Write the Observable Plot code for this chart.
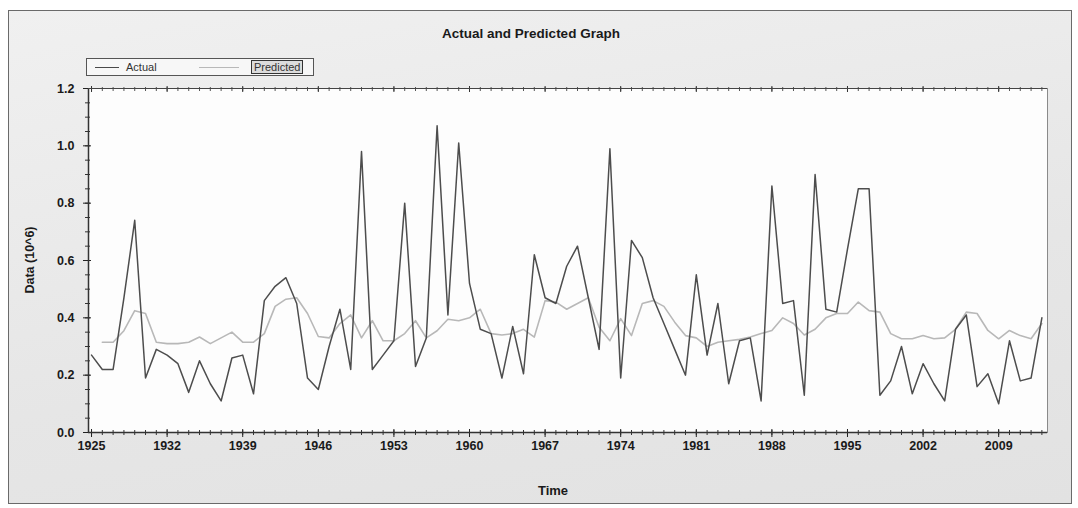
<!DOCTYPE html>
<html><head><meta charset="utf-8">
<script src="https://cdn.jsdelivr.net/npm/d3@7"></script>
<script src="https://cdn.jsdelivr.net/npm/@observablehq/plot@0.6"></script>
<style>
body{margin:0;background:#fff;font-family:"Liberation Sans",Arial,sans-serif;}
#wrap{position:relative;width:1078px;height:508px;overflow:hidden;}
#panel{position:absolute;left:8px;top:10px;width:1064px;height:494px;border:1px solid #6a6a6a;box-sizing:border-box;background:linear-gradient(170deg,#f0f0f0,#e6e6e6 60%,#e2e2e2);}
#chart{position:absolute;left:0;top:0;}
#title{position:absolute;left:-8px;width:1078px;top:26px;text-align:center;font-weight:bold;font-size:13.5px;color:#1a1a1a;}
#legend{position:absolute;left:86px;top:58px;width:228px;height:18px;border:1px solid #555;background:#f7f7f7;font-size:11px;color:#333;box-sizing:border-box;}
#legend .sw{position:absolute;top:8px;height:0;}
#legend .lb{position:absolute;top:2px;line-height:12px;}
#ylab{position:absolute;left:30px;top:260px;transform:translate(-50%,-50%) rotate(-90deg);font-weight:bold;font-size:12.5px;color:#1a1a1a;white-space:nowrap;}
#xlab{position:absolute;left:553px;top:483px;transform:translateX(-50%);font-weight:bold;font-size:13px;color:#1a1a1a;}
</style>
</head><body>
<div id="wrap">
  <div id="panel"></div>
  <div id="chart"></div>
  <div id="title">Actual and Predicted Graph</div>
  <div id="legend">
    <div class="sw" style="left:8px;width:24px;border-top:1.5px solid #4a4a4a;"></div>
    <div class="lb" style="left:39px;">Actual</div>
    <div class="sw" style="left:112px;width:40px;border-top:1.5px solid #b8b8b8;"></div>
    <div class="lb" style="left:164px;top:1px;border:1px solid #333;padding:0 2px;background:#dcdcdc;">Predicted</div>
  </div>
  <div id="ylab">Data (10^6)</div>
  <div id="xlab">Time</div>
</div>
<script>
const years = d3.range(1925, 2014);
const actual = [
  0.27, 0.22, 0.22, 0.47, 0.74, 0.19, 0.29, 0.27, 0.24, 0.14,
  0.25, 0.17, 0.11, 0.26, 0.27, 0.135, 0.46, 0.51, 0.54, 0.45,
  0.19, 0.15, 0.30, 0.43, 0.22, 0.98, 0.22, 0.27, 0.32, 0.80,
  0.23, 0.33, 1.07, 0.41, 1.01, 0.52, 0.36, 0.345, 0.19, 0.37,
  0.205, 0.62, 0.47, 0.45, 0.58, 0.65, 0.47, 0.29, 0.99, 0.19,
  0.67, 0.61, 0.47, 0.38, 0.29, 0.20, 0.55, 0.27, 0.45, 0.17,
  0.32, 0.33, 0.11, 0.86, 0.45, 0.46, 0.13, 0.90, 0.43, 0.42,
  0.64, 0.85, 0.85, 0.13, 0.18, 0.30, 0.135, 0.24, 0.17, 0.11,
  0.36, 0.41, 0.16, 0.205, 0.10, 0.32, 0.18, 0.19, 0.40
];
const predicted = [
  null, 0.315, 0.315, 0.355, 0.425, 0.415, 0.315, 0.31, 0.31, 0.315,
  0.333, 0.31, 0.33, 0.35, 0.315, 0.315, 0.345, 0.44, 0.465, 0.47,
  0.415, 0.335, 0.33, 0.38, 0.41, 0.33, 0.39, 0.32, 0.32, 0.345,
  0.39, 0.33, 0.355, 0.395, 0.39, 0.40, 0.43, 0.345, 0.34, 0.345,
  0.36, 0.333, 0.46, 0.455, 0.43, 0.45, 0.47, 0.367, 0.32, 0.397,
  0.338, 0.45, 0.46, 0.44, 0.385, 0.338, 0.33, 0.30, 0.315, 0.32,
  0.325, 0.333, 0.345, 0.356, 0.40, 0.38, 0.34, 0.36, 0.40, 0.415,
  0.415, 0.455, 0.425, 0.42, 0.345, 0.327, 0.327, 0.338, 0.327, 0.33,
  0.36, 0.42, 0.415, 0.356, 0.327, 0.356, 0.338, 0.327, 0.38
];
const xTickLabels = [1925, 1932, 1939, 1946, 1953, 1960, 1967, 1974, 1981, 1988, 1995, 2002, 2009];
const yTickLabels = [0, 0.2, 0.4, 0.6, 0.8, 1.0, 1.2];
const yMinor = d3.range(0, 1.2001, 0.05);

const rows = years.map((yr, i) => ({year: yr, actual: actual[i], predicted: predicted[i]}));

const font = {fontSize: 12.5, fontWeight: "bold", fill: "#1a1a1a"};

const chart = Plot.plot({
  width: 1078,
  height: 508,
  marginLeft: 88,
  marginRight: 31,
  marginTop: 88,
  marginBottom: 76,
  style: {background: "transparent", fontFamily: "'Liberation Sans', Arial, sans-serif"},
  x: {domain: [1924.72, 2013.52], label: null},
  y: {domain: [0, 1.2], label: null},
  marks: [
    Plot.frame({fill: "#fdfdfd", stroke: "#8a8a8a"}),
    // minor ticks
    Plot.axisX({anchor: "bottom", ticks: years, tickSize: 5, dy: -2, tickFormat: () => "", stroke: "#333", label: null}),
    Plot.axisX({anchor: "top", ticks: years, tickSize: 4, dy: 2, tickFormat: () => "", stroke: "#555", label: null}),
    Plot.axisX({anchor: "bottom", ticks: xTickLabels, tickSize: 8, dy: -3, tickFormat: () => "", stroke: "#222", label: null}),
    Plot.axisX({anchor: "top", ticks: xTickLabels, tickSize: 6, dy: 3, tickFormat: () => "", stroke: "#333", label: null}),
    Plot.axisX({anchor: "bottom", ticks: xTickLabels, tickSize: 0, tickPadding: 9, tickFormat: d => String(d), label: null, ...font}),
    Plot.axisY({anchor: "left", ticks: yMinor, tickSize: 5, dx: 2, tickFormat: () => "", stroke: "#333", label: null}),
    Plot.axisY({anchor: "left", ticks: yTickLabels, tickSize: 8, dx: 3, tickFormat: () => "", stroke: "#222", label: null}),
    Plot.axisY({anchor: "left", ticks: yTickLabels, tickSize: 0, tickPadding: 14, tickFormat: d3.format(".1f"), label: null, ...font}),
    Plot.ruleY([0], {stroke: "#333", strokeWidth: 1.5}),
    Plot.ruleX([1924.72], {stroke: "#333", strokeWidth: 1.5}),
    Plot.ruleY([1.2], {stroke: "#444", strokeWidth: 1.2}),
    Plot.lineY(rows, {x: "year", y: "predicted", stroke: "#b8b8b8", strokeWidth: 1.6, defined: d => d.predicted != null}),
    Plot.lineY(rows, {x: "year", y: "actual", stroke: "#4d4d4d", strokeWidth: 1.5})
  ]
});
document.getElementById("chart").appendChild(chart);
</script>
</body></html>
